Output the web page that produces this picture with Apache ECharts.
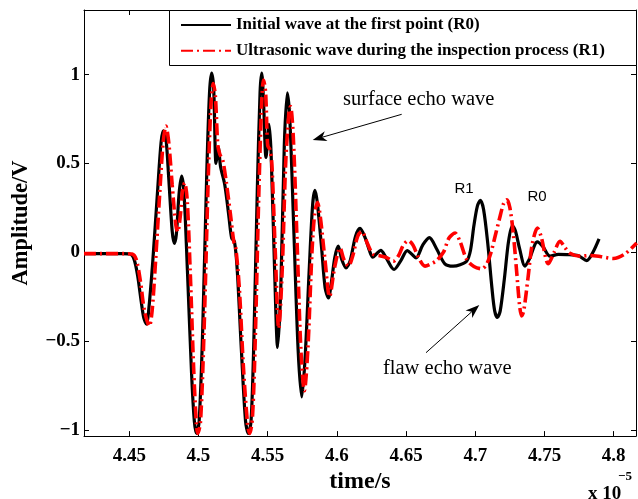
<!DOCTYPE html>
<html>
<head>
<meta charset="utf-8">
<script src="https://cdn.jsdelivr.net/npm/echarts@6/dist/echarts.min.js"></script>
<style>html,body{margin:0;padding:0;background:#fff}#c{width:638px;height:499px}</style>
</head>
<body>
<div id="c"></div>
<script>
// ---- data (time in units of 1e-5 s, amplitude in V) ----
const r0X = [4.4173,4.445,4.4505,4.4535,4.456,4.4585,4.4605,4.4625,4.464,4.467,4.4705,4.473,4.4746,4.4765,4.4785,4.481,4.4825,4.484,4.486,4.4878,4.4895,4.492,4.495,4.497,4.4987,4.5005,4.503,4.506,4.508,4.5095,4.511,4.5127,4.5143,4.516,4.519,4.522,4.524,4.526,4.528,4.531,4.534,4.536,4.538,4.540,4.5425,4.5445,4.5457,4.547,4.5488,4.551,4.5525,4.555,4.5572,4.5595,4.562,4.5642,4.566,4.569,4.572,4.5746,4.577,4.580,4.5825,4.5842,4.586,4.589,4.5915,4.5939,4.596,4.5985,4.601,4.6035,4.6066,4.6095,4.6135,4.6167,4.6205,4.6235,4.6259,4.6285,4.6317,4.6355,4.6413,4.646,4.6509,4.654,4.6572,4.662,4.6668,4.672,4.678,4.684,4.689,4.6938,4.6965,4.699,4.7015,4.7037,4.706,4.709,4.712,4.714,4.716,4.718,4.721,4.724,4.7268,4.729,4.732,4.7359,4.739,4.7449,4.749,4.754,4.760,4.766,4.7745,4.7805,4.785,4.7894];
const r0Y = [-0.008,-0.008,-0.01,-0.04,-0.13,-0.27,-0.37,-0.405,-0.33,-0.05,0.35,0.62,0.683,0.64,0.42,0.12,0.05,0.1,0.33,0.428,0.34,-0.1,-0.68,-0.95,-1.02,-0.95,-0.45,0.45,0.9,1.008,0.92,0.5,0.59,0.48,0.38,0.2,0.08,0.06,-0.1,-0.55,-0.95,-1.02,-0.95,-0.5,0.35,0.9,1.008,0.85,0.534,0.72,0.55,-0.1,-0.536,-0.2,0.6,0.897,0.75,0.1,-0.55,-0.815,-0.6,-0.1,0.27,0.348,0.27,0.02,-0.2,-0.257,-0.17,-0.03,0.034,-0.04,-0.088,-0.05,0.09,0.134,0.08,0.01,-0.028,-0.01,0.011,-0.03,-0.097,-0.05,0.009,-0.01,-0.032,0.04,0.082,0.02,-0.065,-0.078,-0.07,-0.05,0.01,0.15,0.26,0.292,0.24,0.05,-0.2,-0.33,-0.367,-0.33,-0.15,0.06,0.15,0.12,0.02,-0.078,-0.04,0.058,0.03,-0.022,-0.012,-0.013,-0.02,-0.047,0.0,0.075];
const r1X = [4.4173,4.447,4.452,4.455,4.458,4.461,4.4645,4.4665,4.469,4.472,4.4745,4.4765,4.4785,4.481,4.4835,4.485,4.4868,4.4885,4.490,4.4918,4.494,4.4965,4.4985,4.4995,4.5015,4.504,4.507,4.509,4.5107,4.5122,4.514,4.5155,4.5175,4.520,4.523,4.5255,4.527,4.5295,4.5325,4.5355,4.537,4.539,4.541,4.5435,4.5457,4.547,4.5485,4.550,4.5515,4.553,4.5555,4.558,4.5605,4.563,4.5655,4.5665,4.5685,4.5715,4.574,4.5765,4.579,4.582,4.584,4.586,4.588,4.5915,4.5947,4.5985,4.6023,4.605,4.6083,4.6115,4.615,4.618,4.622,4.626,4.631,4.636,4.6408,4.6445,4.648,4.6516,4.655,4.659,4.6637,4.668,4.672,4.677,4.681,4.6854,4.689,4.6938,4.699,4.7046,4.708,4.711,4.714,4.7175,4.7205,4.7227,4.725,4.7275,4.730,4.732,4.7335,4.735,4.738,4.741,4.7449,4.7475,4.7528,4.757,4.7612,4.7645,4.768,4.7757,4.783,4.791,4.7998,4.808,4.8166];
const r1Y = [-0.008,-0.008,-0.01,-0.04,-0.16,-0.33,-0.415,-0.33,-0.05,0.33,0.62,0.71,0.62,0.38,0.16,0.115,0.2,0.35,0.39,0.3,-0.1,-0.65,-0.97,-1.02,-0.95,-0.45,0.4,0.83,0.95,0.88,0.6,0.55,0.52,0.4,0.22,0.06,0.02,-0.2,-0.65,-0.97,-1.02,-0.93,-0.5,0.3,0.85,0.97,0.9,0.6,0.58,0.5,0.0,-0.43,-0.1,0.5,0.8,0.82,0.65,0.0,-0.55,-0.78,-0.55,0.0,0.22,0.28,0.2,-0.05,-0.25,-0.08,0.024,-0.04,-0.078,-0.02,0.09,0.117,0.05,-0.01,-0.02,-0.03,-0.05,-0.02,0.04,0.065,0.04,-0.03,-0.078,-0.065,-0.047,0.0,0.08,0.108,0.06,-0.041,-0.08,-0.093,-0.07,-0.01,0.08,0.19,0.275,0.295,0.25,0.1,-0.12,-0.3,-0.358,-0.33,-0.15,0.04,0.136,0.09,-0.065,0.0,0.062,0.03,-0.004,-0.022,-0.018,-0.025,-0.035,-0.01,0.052];
const xTicks = [4.45,4.5,4.55,4.6,4.65,4.7,4.75,4.8];
const xTickLabels = ['4.45','4.5','4.55','4.6','4.65','4.7','4.75','4.8'];
const yTicks = [-1,-0.5,0,0.5,1];
const yTickLabels = ['\u22121','\u22120.5','0','0.5','1'];
const seriesNames = ['Initial wave at the first point (R0)','Ultrasonic wave during the inspection process (R1)'];
const xRange = [4.4173, 4.8161];
const yRange = [-1.035, 1.3637];

const zip = (a, b) => a.map((v, i) => [v, b[i]]);
const SERIF = '"Liberation Serif","Times New Roman",serif';
const labelOf = (vals, labs) => v => { const i = vals.findIndex(t => Math.abs(t - v) < 1e-6); return i >= 0 ? labs[i] : ''; };

function arrow(x1, y1, x2, y2) {
  const dx = x2 - x1, dy = y2 - y1, L = Math.hypot(dx, dy);
  const ux = dx / L, uy = dy / L, px = -uy, py = ux;
  const len = 14, w = 5, back = 10;
  const bx = x2 - ux * len, by = y2 - uy * len;
  const nx = x2 - ux * back, ny = y2 - uy * back;
  return [
    { type: 'line', silent: true, z: 50, shape: { x1, y1, x2: nx, y2: ny }, style: { stroke: '#000', lineWidth: 1 } },
    { type: 'polygon', silent: true, z: 50, shape: { points: [[x2, y2], [bx + px * w, by + py * w], [nx, ny], [bx - px * w, by - py * w]] }, style: { fill: '#000' } }
  ];
}

const axisCommon = {
  type: 'value', min: xRange[0], max: xRange[1],
  axisLine: { show: true, onZero: false, lineStyle: { color: '#000', width: 1 } },
  splitLine: { show: false }
};

const chart = echarts.init(document.getElementById('c'), null, { renderer: 'canvas' });
chart.setOption({
  animation: false,
  backgroundColor: '#fff',
  grid: { left: 84, right: 2, top: 10, bottom: 60, containLabel: false },
  xAxis: [
    Object.assign({}, axisCommon, {
      position: 'bottom',
      name: 'time/s', nameLocation: 'middle', nameGap: 18,
      nameTextStyle: { fontFamily: SERIF, fontWeight: 'bold', fontSize: 24, color: '#000' },
      axisTick: { show: true, inside: true, length: 5, customValues: xTicks, lineStyle: { color: '#000' } },
      axisLabel: { show: true, customValues: xTicks, formatter: labelOf(xTicks, xTickLabels), margin: 10,
        fontFamily: SERIF, fontWeight: 'bold', fontSize: 19, color: '#000' }
    }),
    Object.assign({}, axisCommon, {
      position: 'top',
      axisTick: { show: true, inside: true, length: 5, customValues: xTicks, lineStyle: { color: '#000' } },
      axisLabel: { show: false }
    })
  ],
  yAxis: [
    {
      type: 'value', min: yRange[0], max: yRange[1], position: 'left',
      axisLine: { show: true, onZero: false, lineStyle: { color: '#000', width: 1 } },
      splitLine: { show: false },
      name: 'Amplitude/V', nameLocation: 'middle', nameGap: 51, nameRotate: 90,
      nameTextStyle: { fontFamily: SERIF, fontWeight: 'bold', fontSize: 22.5, color: '#000' },
      axisTick: { show: true, inside: true, length: 5, customValues: yTicks, lineStyle: { color: '#000' } },
      axisLabel: { show: true, customValues: yTicks, formatter: labelOf(yTicks, yTickLabels), margin: 4,
        fontFamily: SERIF, fontWeight: 'bold', fontSize: 19, color: '#000' }
    },
    {
      type: 'value', min: yRange[0], max: yRange[1], position: 'right',
      axisLine: { show: true, onZero: false, lineStyle: { color: '#000', width: 1 } },
      splitLine: { show: false },
      axisTick: { show: true, inside: true, length: 5, customValues: yTicks, lineStyle: { color: '#000' } },
      axisLabel: { show: false }
    }
  ],
  legend: {
    show: true, orient: 'vertical', left: 169, top: 10,
    padding: [6.5, 10, 6.5, 11],
    itemWidth: 50, itemHeight: 14, itemGap: 8.7,
    itemStyle: { opacity: 0 },
    textStyle: { fontFamily: SERIF, fontWeight: 'bold', fontSize: 17, color: '#000' },
    data: seriesNames,
    z: 60
  },
  series: [
    {
      name: seriesNames[0], type: 'line', xAxisIndex: 0, yAxisIndex: 0,
      data: zip(r0X, r0Y), showSymbol: false, symbol: 'none', smooth: 0.3,
      lineStyle: { color: '#000', width: 3.2 }, itemStyle: { color: '#000' }, z: 3
    },
    {
      name: seriesNames[1], type: 'line', xAxisIndex: 0, yAxisIndex: 0,
      data: zip(r1X, r1Y), showSymbol: false, symbol: 'none', smooth: 0.3,
      lineStyle: { color: '#ff0000', width: 3.6, type: [12, 4, 2, 4] }, itemStyle: { color: '#ff0000' }, z: 4
    }
  ],
  graphic: [
    { type: 'rect', silent: true, z: 55, shape: { x: 169.5, y: 10.5, width: 467, height: 55 }, style: { fill: '#fff', stroke: '#000', lineWidth: 1 } },
    { type: 'text', silent: true, z: 50, x: 343, y: 100, style: { text: 'surface echo wave', font: '20.5px ' + SERIF, fill: '#000', align: 'left', verticalAlign: 'middle', textAlign: 'left', textVerticalAlign: 'middle' } },
    { type: 'text', silent: true, z: 50, x: 383, y: 369, style: { text: 'flaw echo wave', font: '20.5px ' + SERIF, fill: '#000', align: 'left', verticalAlign: 'middle', textAlign: 'left', textVerticalAlign: 'middle' } },
    { type: 'text', silent: true, z: 50, x: 464, y: 189, style: { text: 'R1', font: '15px "Liberation Sans",Arial,sans-serif', fill: '#000', align: 'center', verticalAlign: 'middle', textAlign: 'center', textVerticalAlign: 'middle' } },
    { type: 'text', silent: true, z: 50, x: 537, y: 196.5, style: { text: 'R0', font: '15px "Liberation Sans",Arial,sans-serif', fill: '#000', align: 'center', verticalAlign: 'middle', textAlign: 'center', textVerticalAlign: 'middle' } },
    { type: 'text', silent: true, z: 50, x: 588, y: 494, style: { text: 'x 10', font: 'bold 19px ' + SERIF, fill: '#000', align: 'left', verticalAlign: 'middle', textAlign: 'left', textVerticalAlign: 'middle' } },
    { type: 'text', silent: true, z: 50, x: 618, y: 477, style: { text: '\u22125', font: 'bold 13px ' + SERIF, fill: '#000', align: 'left', verticalAlign: 'middle', textAlign: 'left', textVerticalAlign: 'middle' } }
  ].concat(arrow(401.7, 114.3, 312.7, 140), arrow(426, 352.7, 479.3, 305))
});
</script>
</body>
</html>
